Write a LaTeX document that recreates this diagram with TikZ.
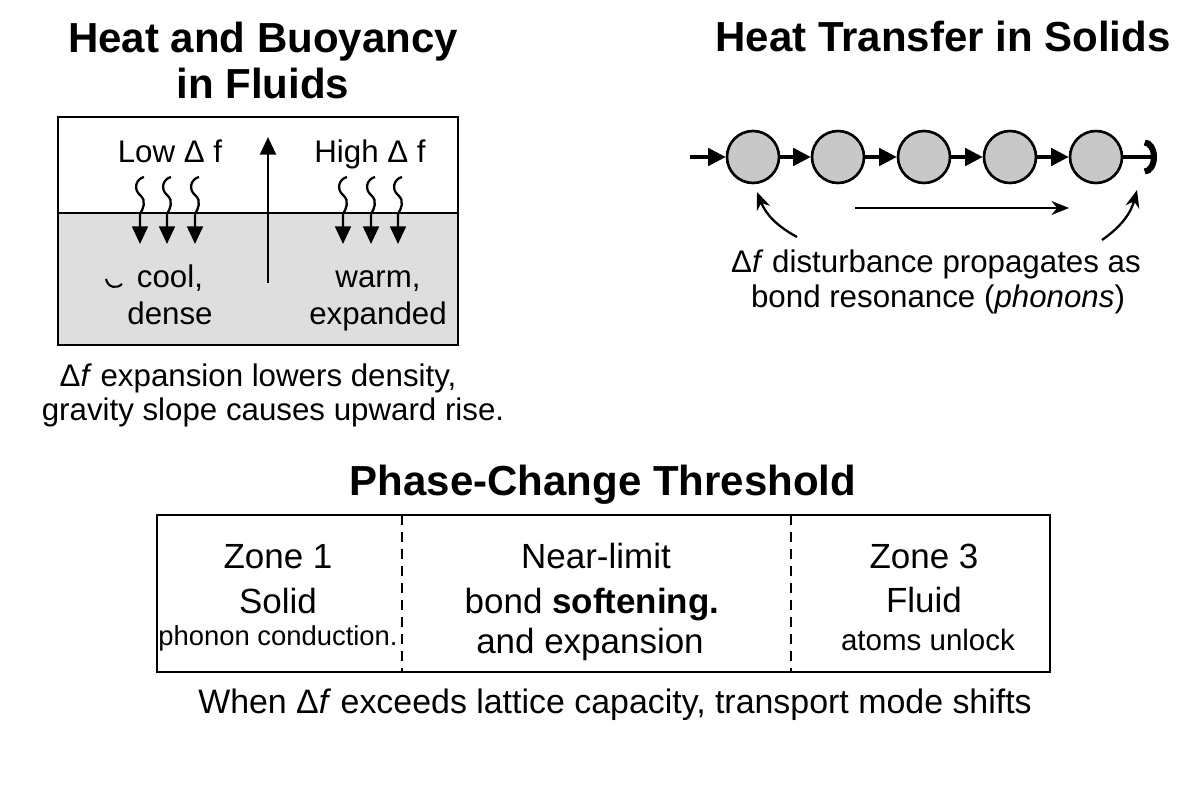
\documentclass[tikz,border=0pt]{standalone}
\usepackage{fontspec}
\setmainfont{Liberation Sans}
\usepackage{tikz}
\usetikzlibrary{arrows.meta, positioning, calc}
\definecolor{fluidgray}{HTML}{DEDEDE}
\definecolor{atomgray}{HTML}{C8C8C8}

\tikzset{
    paneltitle/.style={font=\fontsize{23.9}{27}\selectfont\bfseries, anchor=base, inner sep=0pt},
    bodytext/.style={font=\fontsize{17.8}{21}\selectfont, anchor=base, inner sep=0pt},
    zonetext/.style={font=\fontsize{19.9}{23}\selectfont, anchor=base, inner sep=0pt},
    smalltext/.style={font=\fontsize{15.6}{18}\selectfont, anchor=base, inner sep=0pt},
    atom/.style={circle, draw, line width=1.5pt, fill=atomgray, minimum size=1.04cm, inner sep=0pt},
    linkarrow/.style={line width=1.8pt, -{Triangle[length=10pt,width=10pt]}},
    heatarrow/.style={line width=1.3pt, -{Triangle[length=10pt,width=9pt]}},
    bendarrow/.style={line width=1.3pt, -{Stealth[length=10pt,width=8pt]}},
    zoneline/.style={line width=0.8pt, dash pattern=on 5.7pt off 4pt}
}

\begin{document}
\begin{tikzpicture}[x=0.02cm, y=-0.02cm]
    \useasboundingbox (0,0) rectangle (1200,800);

    % Buoyancy panel
    \node[paneltitle] (fluidtitle) at (263,53) {Heat and Buoyancy};
    \node[paneltitle] (fluidtitlesub) at (263,99) {in Fluids};
    \fill[fluidgray] (58,213) rectangle (458,345);
    \draw[line width=1.1pt] (58,117) rectangle (458,345);
    \draw[line width=1.1pt] (58,213) -- (458,213);
    \foreach \x [count=\i] in {140,167,195,343,371,398} {
        \coordinate (wtop\i) at (\x+4,177);
        \coordinate (wtip\i) at (\x,244);
        \draw[heatarrow] (wtop\i) .. controls (\x-4,179) and (\x-7,189) .. (\x,195)
            .. controls (\x+7,201) and (\x+3,209) .. (\x,214) -- (wtip\i);
    }
    \coordinate (riselow) at (268,283);
    \coordinate (risetop) at (268,137);
    \draw[heatarrow, line width=1.4pt] (riselow) -- (risetop);
    \node[bodytext] (lowf) at (170,163) {Low Δ f};
    \node[bodytext] (highf) at (370,163) {High Δ f};
    \node[bodytext] (cool) at (170,288) {cool,};
    \node[bodytext] (dense) at (170,325) {dense};
    \node[bodytext] (warm) at (378,288) {warm,};
    \node[bodytext] (expanded) at (378,325) {expanded};
    \draw[line width=1.2pt] (106,279) .. controls (108,288) and (117,289) .. (122,284);
    \node[bodytext] (fluidcap) at (258,387) {Δ\textit{f} expansion lowers density,};
    \node[bodytext] (fluidcapsub) at (273,420) {gravity slope causes upward rise.};

    % Solids panel
    \node[paneltitle] (solidtitle) at (943,52) {Heat Transfer in Solids};
    \foreach \x [count=\i] in {753,838,924,1010,1096}
        \node[atom] (c\i) at (\x,157) {};
    \coordinate (chainin) at (690,157);
    \coordinate (chainout) at (1157,157);
    \draw[linkarrow] (chainin) -- (c1);
    \foreach \i [count=\j from 2] in {1,...,4}
        \draw[linkarrow] (c\i) -- (c\j);
    \draw[line width=1.8pt, -{Arc Barb[length=7pt,width=20pt,line width=3.5pt]}] (c5) -- (chainout);
    \coordinate (bendl) at (797,237);
    \coordinate (bendltip) at (757,192);
    \coordinate (bendr) at (1102,240);
    \coordinate (bendrtip) at (1137,190);
    \draw[bendarrow] (bendl) to[bend left=20] (bendltip);
    \draw[bendarrow] (bendr) to[bend right=20] (bendrtip);
    \coordinate (flowstart) at (855,208);
    \coordinate (flowend) at (1069,208);
    \draw[line width=1.1pt, -{Stealth[length=10pt,width=8pt]}] (flowstart) -- (flowend);
    \node[bodytext] (solidcap) at (936,273) {Δ\textit{f} disturbance propagates as};
    \node[bodytext] (solidcapsub) at (938,308) {bond resonance (\textit{phonons})};

    % Phase panel
    \node[paneltitle] (phasetitle) at (603,495) {Phase-Change Threshold};
    \draw[line width=1.1pt] (157,515) rectangle (1050,672);
    \draw[zoneline] (402,515) -- (402,672);
    \draw[zoneline] (791,515) -- (791,672);
    \node[zonetext] (zoneone) at (278,568) {Zone 1};
    \node[zonetext] (solid) at (278,613) {Solid};
    \node[smalltext] (phonon) at (278,645) {phonon conduction.};
    \node[zonetext] (nearlimit) at (596,568) {Near-limit};
    \node[zonetext] (softening) at (592,613) {bond \textbf{softening.}};
    \node[zonetext] (expansion) at (590,653) {and expansion};
    \node[zonetext] (zonethree) at (924,568) {Zone 3};
    \node[zonetext] (fluid) at (924,612) {Fluid};
    \node[smalltext, font=\fontsize{16.8}{19}\selectfont] (unlock) at (928,650) {atoms unlock};
    \node[bodytext, font=\fontsize{19.3}{22}\selectfont] (shiftcap) at (615,713) {When Δ\textit{f} exceeds lattice capacity, transport mode shifts};
\end{tikzpicture}
\end{document}
